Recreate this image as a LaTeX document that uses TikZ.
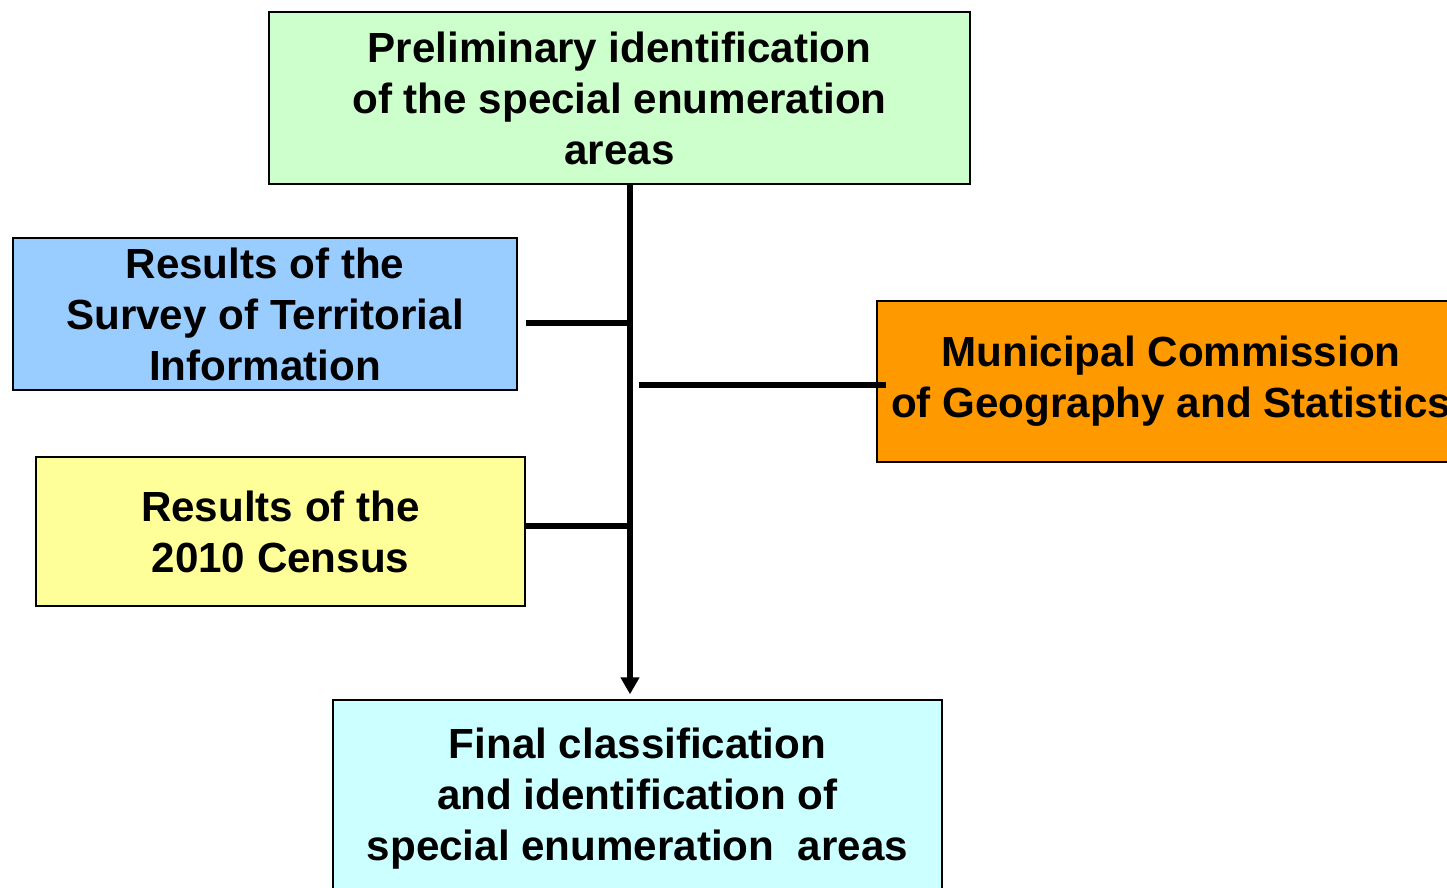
\documentclass[tikz,border=0pt]{standalone}
\usepackage{fontspec}
\setmainfont{Liberation Sans}
\usepackage{tikz}
\usetikzlibrary{arrows.meta, positioning}

\definecolor{prelimgreen}{HTML}{CCFFCC}
\definecolor{surveyblue}{HTML}{99CCFF}
\definecolor{commorange}{HTML}{FF9900}
\definecolor{censusyellow}{HTML}{FFFF99}
\definecolor{finalcyan}{HTML}{CCFFFF}

\begin{document}
\begin{tikzpicture}[x=0.02cm, y=-0.02cm,
    box/.style={draw, line width=0.8pt, align=center, inner sep=0pt,
      font=\fontsize{24}{29}\selectfont\bfseries},
    link/.style={line width=3pt}]
    \useasboundingbox (0,0) rectangle (1447,888);

    % The boxes
    \node[box, fill=prelimgreen, minimum width=14.02cm, minimum height=3.44cm]
      (prelim) at (619.5,98) {Preliminary identification\\of the special enumeration\\areas};
    \node[box, fill=surveyblue, minimum width=10.08cm, minimum height=3.04cm]
      (survey) at (265,314) {Results of the\\Survey of Territorial\\Information};
    \node[box, fill=commorange, minimum width=11.76cm, minimum height=3.22cm]
      (commission) at (1171,381.5) {Municipal Commission\\of Geography and Statistics};
    \node[box, fill=censusyellow, minimum width=9.78cm, minimum height=2.98cm]
      (census) at (280.5,531.5) {Results of the\\2010 Census};
    \node[box, fill=finalcyan, minimum width=12.18cm, minimum height=3.96cm]
      (final) at (637.5,799) {Final classification\\and identification of\\special enumeration~ areas};

    % Main line down to the final box
    \coordinate (spine) at (630,0);
    \draw[link, -{Triangle[length=0.34cm, width=0.36cm]}, shorten >=0.1cm]
      (prelim.south -| spine) -- (final.north -| spine);

    % Inputs joining the main line
    \draw[link] ([shift={(8,9)}]survey.east) coordinate (s) -- (s -| spine);
    \draw[link] ([shift={(10,3.5)}]commission.west) coordinate (c) -- ([xshift=5]c -| spine);
    \draw[link] ([shift={(0,-5.5)}]census.east) coordinate (k) -- (k -| spine);
\end{tikzpicture}
\end{document}
